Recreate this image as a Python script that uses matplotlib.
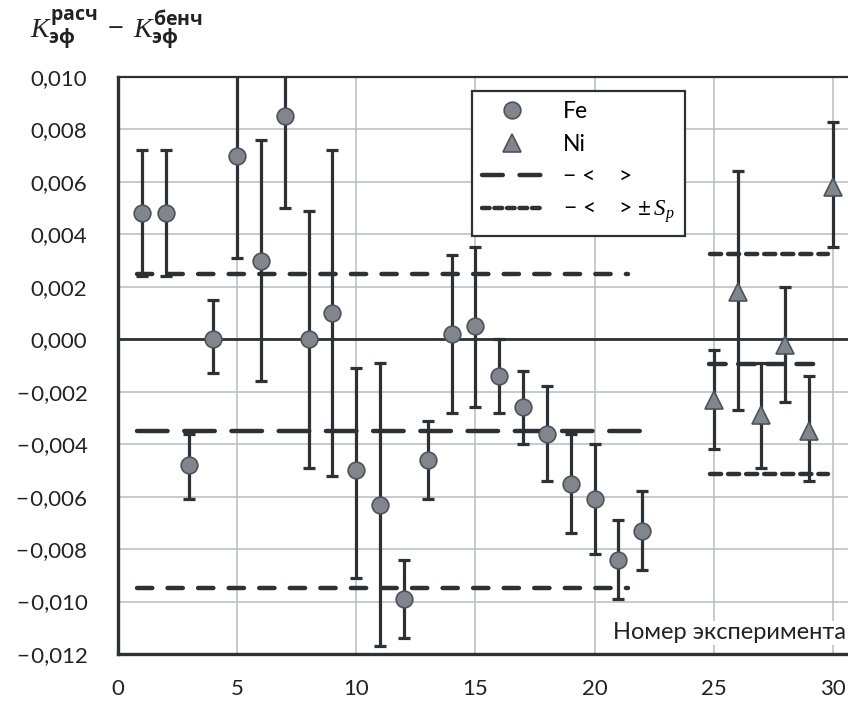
import matplotlib
matplotlib.use("Agg")
import matplotlib.pyplot as plt
from matplotlib.lines import Line2D
import numpy as np

plt.rcParams['font.family'] = ['Lato', 'DejaVu Sans']
plt.rcParams['mathtext.fontset'] = 'custom'
plt.rcParams['mathtext.rm'] = 'Open Sans'
plt.rcParams['mathtext.it'] = 'Liberation Serif:italic'
plt.rcParams['mathtext.bf'] = 'Open Sans:bold'
plt.rcParams['lines.scale_dashes'] = False

# ---- data ----
fe_x = list(range(1, 23))
fe_y = [0.0048, 0.0048, -0.0048, 0.0000, 0.0070, 0.0030, 0.0085, 0.0000, 0.0010, -0.0050, -0.0063,
        -0.0099, -0.0046, 0.0002, 0.0005, -0.0014, -0.0026, -0.0036, -0.0055, -0.0061, -0.0084, -0.0073]
fe_hi = [0.0072, 0.0072, -0.0036, 0.0015, 0.0110, 0.0076, 0.0110, 0.0049, 0.0072, -0.0011, -0.0009,
         -0.0084, -0.0031, 0.0032, 0.0035, 0.0000, -0.0012, -0.0018, -0.0036, -0.0040, -0.0069, -0.0058]
fe_lo = [0.0024, 0.0024, -0.0061, -0.0013, 0.0031, -0.0016, 0.0050, -0.0049, -0.0052, -0.0091, -0.0117,
         -0.0114, -0.0061, -0.0028, -0.0026, -0.0028, -0.0040, -0.0054, -0.0074, -0.0082, -0.0099, -0.0088]

ni_x = [25, 26, 27, 28, 29, 30]
ni_y = [-0.0023, 0.0018, -0.0029, -0.0002, -0.0035, 0.0058]
ni_hi = [-0.0004, 0.0064, -0.0009, 0.0020, -0.0014, 0.0083]
ni_lo = [-0.0042, -0.0027, -0.0049, -0.0024, -0.0054, 0.0035]

fe_mean, fe_sp = -0.0035, 0.0060
ni_mean, ni_sp = -0.00095, 0.0042
fe_mean_span = [0.8, 21.9]
fe_sp_span = [0.8, 21.4]
ni_mean_span = [24.8, 29.6]
ni_sp_span = [24.85, 29.8]

y_ticks = [-0.012, -0.010, -0.008, -0.006, -0.004, -0.002, 0.000, 0.002, 0.004, 0.006, 0.008, 0.010]
x_ticks = [0, 5, 10, 15, 20, 25, 30]

legend_labels = ['Fe', 'Ni', '\u2212 <    >', '\u2212 <    > $\\pm\\, \\mathit{S_p}$']

# ---- style ----
dark = '#2b3135'
gray_fill = '#80868c'
edge_c = '#4d5359'
grid_c = '#b9bdc0'

fig = plt.figure(figsize=(8.48, 7.05), dpi=100)
ax = fig.add_axes([118/848, 51/705, 1 - 118/848, (654-77)/705])

ax.set_xlim(0, 30.63)
ax.set_ylim(-0.012, 0.010)
ax.set_xticks(x_ticks)
ax.set_yticks(y_ticks)
ax.set_xticklabels([str(v) for v in x_ticks])
def fmt(v):
    s = f"{abs(v):.3f}".replace('.', ',')
    return ('\u2212\u200a' + s) if v < -1e-12 else s
ax.set_yticklabels([fmt(v) for v in y_ticks])
ax.tick_params(axis='both', length=0, labelsize=16, colors='#222222')
ax.tick_params(axis='x', pad=18)
ax.tick_params(axis='y', pad=22)

ax.grid(True, color=grid_c, lw=1.1, zorder=0)
ax.set_axisbelow(True)
for side in ['left', 'bottom']:
    ax.spines[side].set_linewidth(2.4)
    ax.spines[side].set_color(dark)
ax.spines['top'].set_linewidth(1.6)
ax.spines['top'].set_color(dark)
ax.spines['right'].set_visible(False)

ax.axhline(0, color=dark, lw=2.0, zorder=2)

def err(y, hi, lo):
    y = np.array(y); hi = np.array(hi); lo = np.array(lo)
    return [y - lo, hi - y]

ax.errorbar(fe_x, fe_y, yerr=err(fe_y, fe_hi, fe_lo), fmt='none', ecolor=dark,
            elinewidth=2.3, capsize=4.5, capthick=2.3, zorder=3)
ax.errorbar(ni_x, ni_y, yerr=err(ni_y, ni_hi, ni_lo), fmt='none', ecolor=dark,
            elinewidth=2.3, capsize=4.5, capthick=2.3, zorder=3)

ax.plot(fe_x, fe_y, 'o', ms=12, mfc=gray_fill, mec=edge_c, mew=1.2, ls='none', zorder=5)
ax.plot(ni_x, ni_y, '^', ms=12.5, mfc=gray_fill, mec=edge_c, mew=1.2, ls='none', zorder=5)

mean_dash = (0, (22, 12))
sp_dash = (0, (11, 11))
lw_m = 3.2
ax.plot(fe_mean_span, [fe_mean, fe_mean], color=dark, lw=lw_m, ls=mean_dash,
        dash_capstyle='round', zorder=4)
ax.plot(fe_sp_span, [fe_mean + fe_sp] * 2, color=dark, lw=lw_m, ls=sp_dash,
        dash_capstyle='round', zorder=4)
ax.plot(fe_sp_span, [fe_mean - fe_sp] * 2, color=dark, lw=lw_m, ls=sp_dash,
        dash_capstyle='round', zorder=4)
ax.plot(ni_mean_span, [ni_mean, ni_mean], color=dark, lw=lw_m, ls=(0, (12, 9)),
        dash_capstyle='round', zorder=4)
ax.plot(ni_sp_span, [ni_mean + ni_sp] * 2, color=dark, lw=lw_m, ls=(0, (8, 5)),
        dash_capstyle='round', zorder=4)
ax.plot(ni_sp_span, [ni_mean - ni_sp] * 2, color=dark, lw=lw_m, ls=(0, (8, 5)),
        dash_capstyle='round', zorder=4)

handles = [
    Line2D([], [], marker='o', ms=12, mfc=gray_fill, mec=edge_c, mew=1.2, ls='none'),
    Line2D([], [], marker='^', ms=12.5, mfc=gray_fill, mec=edge_c, mew=1.2, ls='none'),
    Line2D([], [], color=dark, lw=lw_m, ls=(0, (15, 12)), dash_capstyle='round'),
    Line2D([], [], color=dark, lw=lw_m, ls=(0, (5.5, 3.5)), dash_capstyle='round'),
]
leg = ax.legend(handles=handles, labels=legend_labels, loc='upper left',
                bbox_to_anchor=((472-118)/730, (654-91)/577), fontsize=16.5,
                frameon=True, fancybox=False, edgecolor=dark, framealpha=1,
                handlelength=2.6, handletextpad=0.9, labelspacing=0.5,
                borderpad=0.45, borderaxespad=0)
leg.get_frame().set_linewidth(1.6)
leg.set_zorder(6)

ax.text(0.997, 0.037, 'Номер эксперимента', transform=ax.transAxes, ha='right', va='center',
        fontsize=17, color='#222222', zorder=7,
        bbox=dict(facecolor='white', edgecolor='none', pad=1))

fig.text(30/848, 1 - 30/705,
         r'$\mathit{K}_{\mathbf{эф}}^{\mathbf{расч}}\;-\;\mathit{K}_{\mathbf{эф}}^{\mathbf{бенч}}$',
         fontsize=20, ha='left', va='center', color='#222222')

fig.savefig('out.png', dpi=100)
